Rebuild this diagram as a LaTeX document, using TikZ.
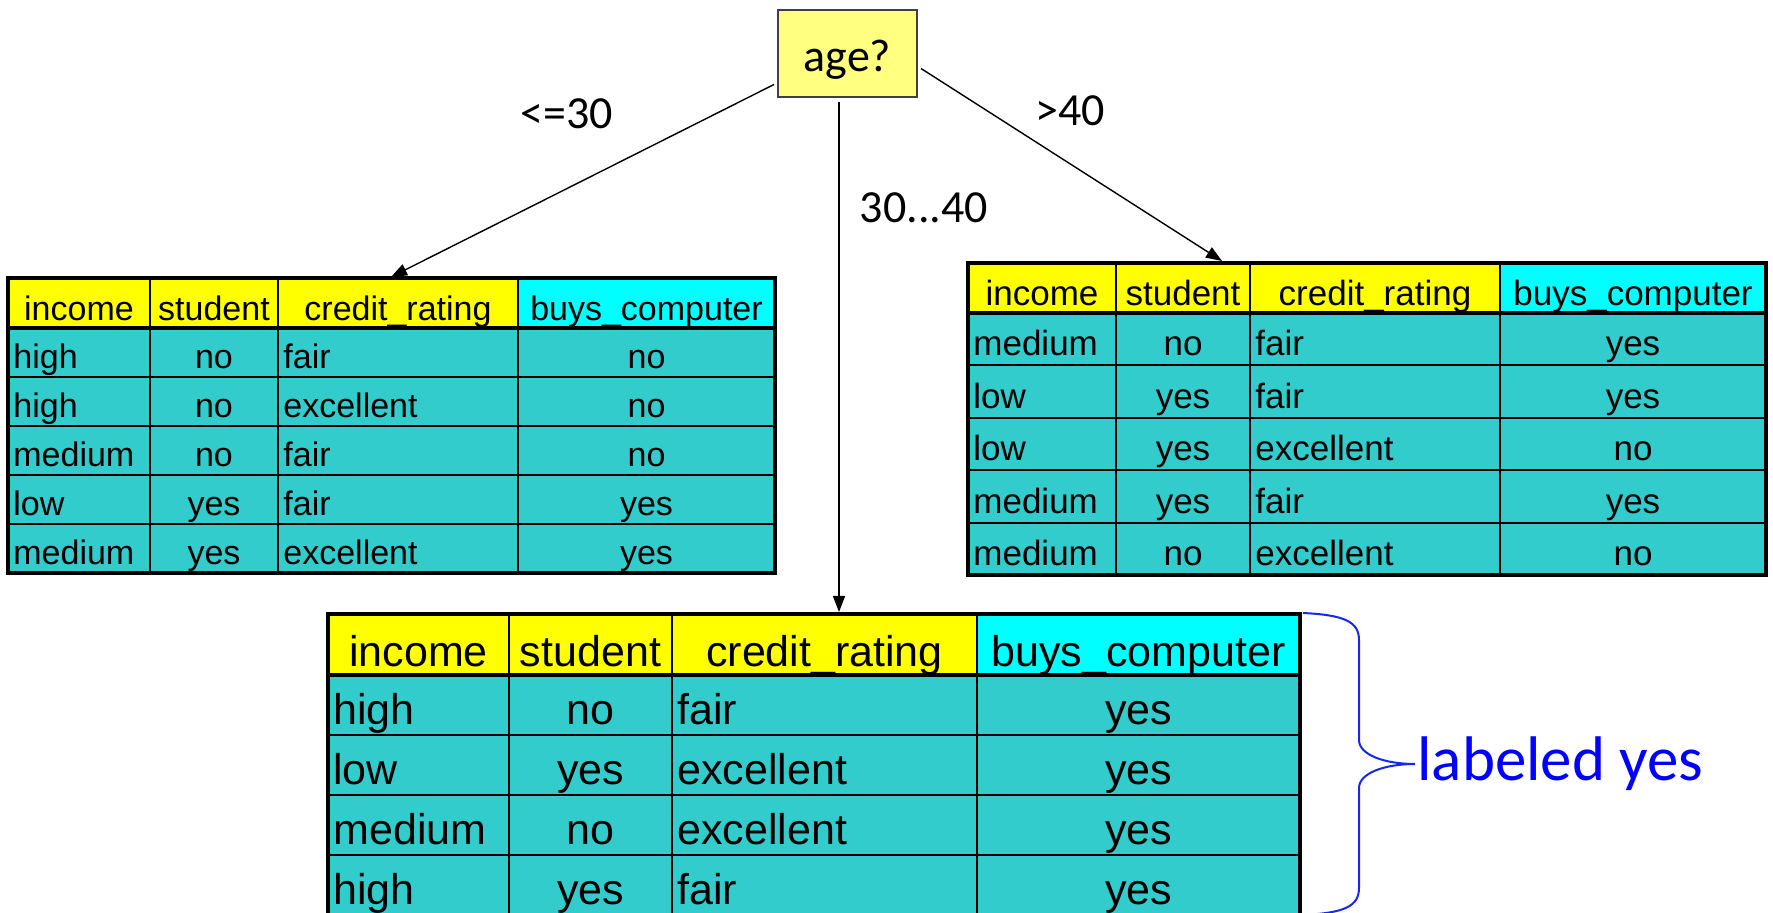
\documentclass[tikz,border=0pt]{standalone}
\usepackage{fontspec}
\setmainfont{Liberation Sans}
\newfontfamily\calibri{Carlito}
\usetikzlibrary{arrows.meta}

\definecolor{hdrcol}{RGB}{255,255,0}
\definecolor{classcol}{RGB}{0,255,255}
\definecolor{bodycol}{RGB}{51,204,204}
\definecolor{agecol}{RGB}{255,255,128}
\definecolor{bracecol}{RGB}{20,40,240}

\tikzset{
cell/.style={ % Sets the text of every table cell
font=\fontsize{#1}{#1}\selectfont,
inner sep=0pt,
anchor=base},
grid/.style={line width=1pt},
rule/.style={line width=1.6pt},
agebox/.style={draw=black!75, fill=agecol, line width=1pt,
minimum width=69.5pt, minimum height=43.5pt,
text height=18.5pt, text depth=0pt,
font=\calibri\fontsize{23}{23}\selectfont},
lbl/.style={font=\calibri\fontsize{23}{23}\selectfont, inner sep=0pt, anchor=base},
yeslbl/.style={font=\calibri\fontsize{31.5}{31.5}\selectfont, text=blue, inner xsep=1pt},
brace/.style={draw=bracecol, line width=1pt},
every edge/.style={ % Sets the properties for each branch
draw,
-{Triangle[length=8pt,width=6pt]},
line width=0.7pt}}

% #1 name, #2 column edges, #3 top/header/row height/rows, #4 font size, #5 rows
\newcommand{\datatable}[5]{%
  \foreach \xa/\xb/\xc/\xd/\xe in {#2}{%
  \foreach \yt/\hh/\rh/\nr in {#3}{%
    \pgfmathsetmacro\yh{\yt+\hh}
    \pgfmathsetmacro\yb{\yh+\nr*\rh}
    \fill[hdrcol] (\xa,\yt) rectangle (\xd,\yh);
    \fill[classcol] (\xd,\yt) rectangle (\xe,\yh);
    \fill[bodycol] (\xa,\yh) rectangle (\xe,\yb);
    \pgfmathsetmacro\ybase{\yt+0.86*\hh}
    \node[cell=#4] (#1-h1) at ({(\xa+\xb)/2},\ybase) {income};
    \node[cell=#4] (#1-h2) at ({(\xb+\xc)/2},\ybase) {student};
    \node[cell=#4] (#1-h3) at ({(\xc+\xd)/2},\ybase) {credit\_rating};
    \node[cell=#4] (#1-h4) at ({(\xd+\xe)/2},\ybase) {buys\_computer};
    \foreach \inc/\stu/\cre/\buy [count=\rw] in {#5}{%
      \pgfmathsetmacro\ybase{\yh+(\rw-0.18)*\rh}
      \node[cell=#4, anchor=base west] (#1-\rw-1) at ({\xa+5},\ybase) {\inc};
      \node[cell=#4] (#1-\rw-2) at ({(\xb+\xc)/2},\ybase) {\stu};
      \node[cell=#4, anchor=base west] (#1-\rw-3) at ({\xc+5},\ybase) {\cre};
      \node[cell=#4] (#1-\rw-4) at ({(\xd+\xe)/2},\ybase) {\buy};
      \draw[grid] (\xa,{\yh+\rw*\rh}) -- (\xe,{\yh+\rw*\rh});
    }
    \foreach \xv in {\xb,\xc,\xd}
      \draw[grid] (\xv,\yt) -- (\xv,\yb);
    \draw[rule] (\xa,\yh) -- (\xe,\yh);
    \draw[rule] (\xa,\yt) rectangle (\xe,\yb);
  }}%
}

\begin{document}
\begin{tikzpicture}[x=0.5pt, y=-0.5pt]
\useasboundingbox (0,0) rectangle (1773,913);

\node[agebox] (age) at (847.5,53.5) {age?};

\datatable{L}{8/150/278/518/775}{278/50/49/5}{17}
  {high/no/fair/no, high/no/excellent/no, medium/no/fair/no,
   low/yes/fair/yes, medium/yes/excellent/yes}
\datatable{R}{968/1116/1250/1500/1766}{263/50/52.4/5}{17.5}
  {medium/no/fair/yes, low/yes/fair/yes, low/yes/excellent/no,
   medium/yes/fair/yes, medium/no/excellent/no}
\datatable{M}{328/509/672/977/1300}{614/61/60/4}{21.5}
  {high/no/fair/yes, low/yes/excellent/yes, medium/no/excellent/yes,
   high/yes/fair/yes}

\coordinate (L-in) at (391,277);
\coordinate (M-in) at (839,612);
\coordinate (R-in) at (1222,261);

\draw ([shift={(-3,31)}]age.west) edge (L-in)
      ([shift={(-8.5,4)}]age.south) edge (M-in)
      ([shift={(3,15)}]age.east) edge (R-in);

\node[lbl] (le30) at (567,129) {<=30};
\node[lbl] (mid) at (924,223) {30...40};
\node[lbl] (gt40) at (1070,126) {>40};

\node[yeslbl, anchor=west] (yes) at (1415,764) {labeled yes};
\draw[brace] (1303,613) .. controls (1345,615) and (1359,622) .. (1359,640)
  -- (1359,740) .. controls (1359,755) and (1385,764) .. (yes.west)
  .. controls (1385,764) and (1359,773) .. (1359,788)
  -- (1359,888) .. controls (1359,906) and (1345,913) .. (1303,915);
\end{tikzpicture}
\end{document}
